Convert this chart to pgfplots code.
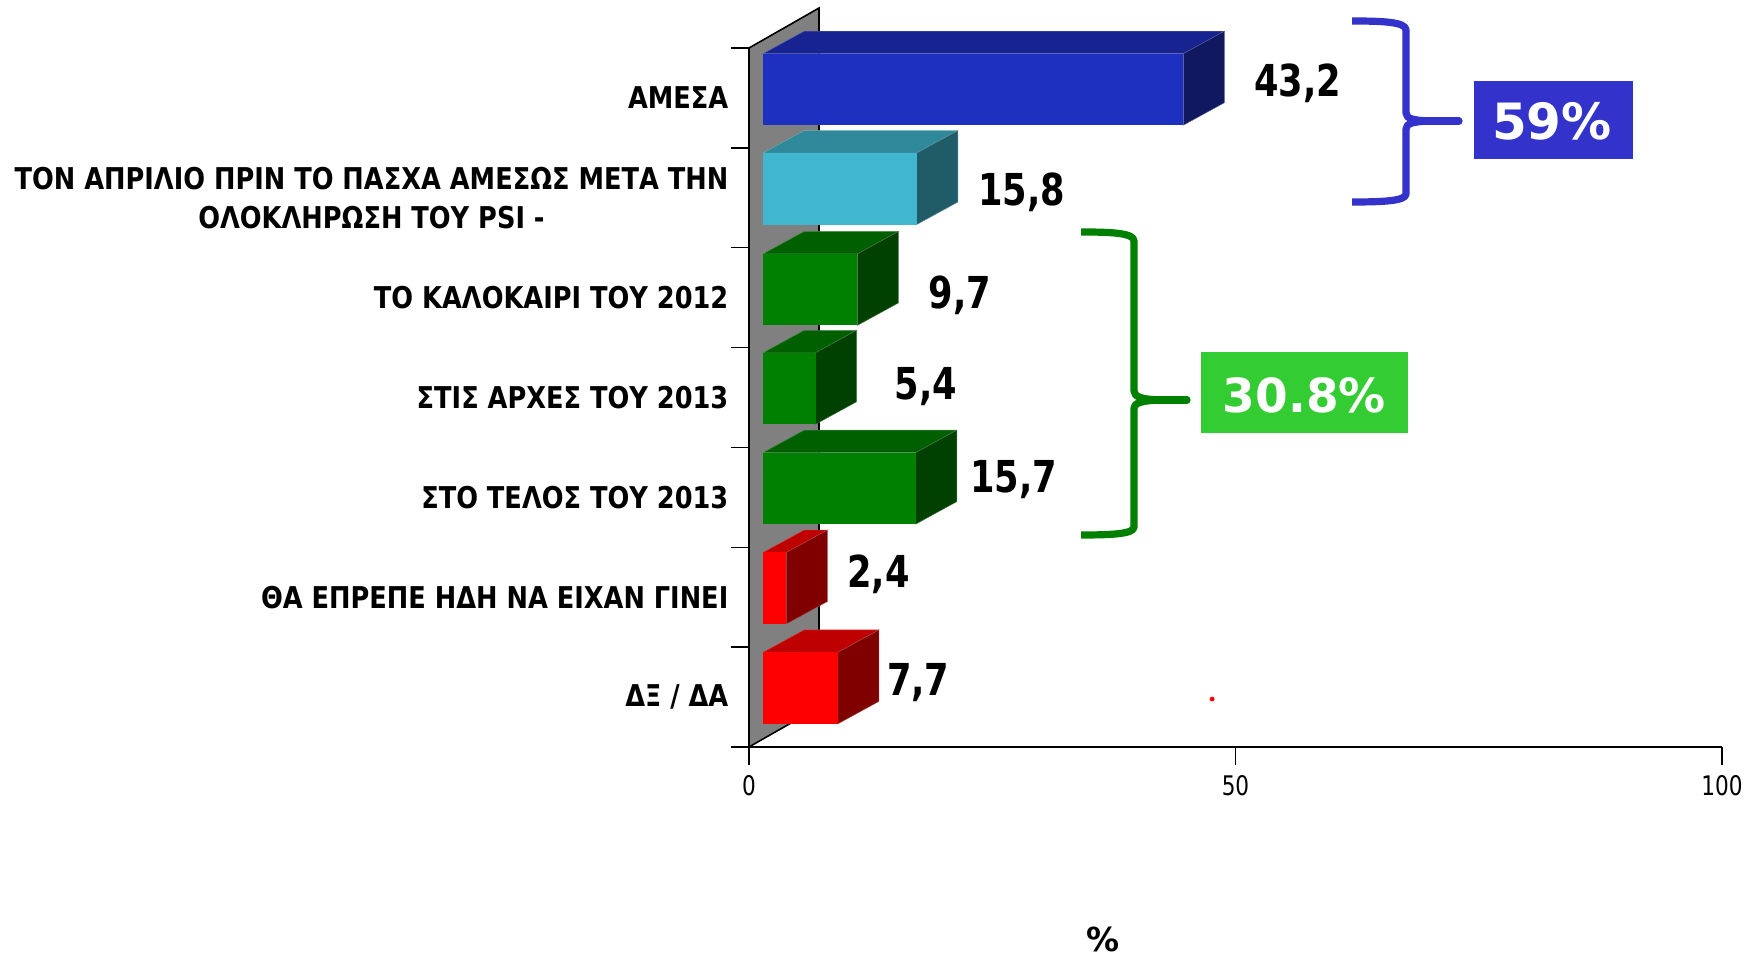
\documentclass[border=0pt]{standalone}
\usepackage{fontspec}
\usepackage{pgfplots}
\usepackage{pgfplotstable}
\pgfplotsset{compat=1.18}
\setmainfont{DejaVu Sans}
\newfontfamily\lab[FakeStretch=0.8]{DejaVu Sans}
\newfontfamily\cat[FakeStretch=0.855]{DejaVu Sans}
\definecolor{bluef}{RGB}{30,48,192}
\definecolor{bluet}{RGB}{23,35,144}
\definecolor{blues}{RGB}{16,24,96}
\definecolor{cyanf}{RGB}{64,182,207}
\definecolor{cyant}{RGB}{48,137,155}
\definecolor{cyans}{RGB}{32,91,104}
\definecolor{greenf}{RGB}{0,128,0}
\definecolor{greent}{RGB}{0,96,0}
\definecolor{greens}{RGB}{0,64,0}
\definecolor{redf}{RGB}{255,0,0}
\definecolor{redt}{RGB}{191,0,0}
\definecolor{reds}{RGB}{128,0,0}
\definecolor{annblue}{RGB}{51,51,204}
\definecolor{anngreen}{RGB}{51,204,51}
\definecolor{brgreen}{RGB}{0,128,0}
\tikzset{
  fb/.style={xbar, bar width=35.75pt, xshift=7pt, draw=none, fill=#1},
  face/.style={fill=#1, draw=#1!70!white, line width=0.2pt, mark=none},
  val/.style={font=\lab\bfseries\fontsize{22}{24}\selectfont, text=black},
}
\begin{document}
\begin{tikzpicture}
\path[use as bounding box] (0,0) rectangle (876.5pt,479pt);
\begin{axis}[
  at={(374.5pt,105.5pt)}, anchor=south west,
  scale only axis, width=486.5pt, height=349.5pt,
  xmin=0, xmax=100, ymin=0, ymax=7,
  axis lines*=left, axis line style={-, line width=0.8pt, black},
  clip=false,
  tick align=outside, major tick length=9pt,
  tick style={black, line width=0.7pt},
  xtick={0,50,100},
  ytick={0,1,2,3,4,5,6,7}, yticklabels={},
  extra y ticks={0.5,1.5,2.5,3.5,4.5,5.5,6.5},
  extra y tick labels={{ΔΞ / ΔΑ},{ΘΑ ΕΠΡΕΠΕ ΗΔΗ ΝΑ ΕΙΧΑΝ ΓΙΝΕΙ},{ΣΤΟ ΤΕΛΟΣ ΤΟΥ 2013},{ΣΤΙΣ ΑΡΧΕΣ ΤΟΥ 2013},{ΤΟ ΚΑΛΟΚΑΙΡΙ ΤΟΥ 2012},{ΤΟΝ ΑΠΡΙΛΙΟ ΠΡΙΝ ΤΟ ΠΑΣΧΑ ΑΜΕΣΩΣ ΜΕΤΑ ΤΗΝ\\ΟΛΟΚΛΗΡΩΣΗ ΤΟΥ PSI -},{ΑΜΕΣΑ}},
  extra y tick style={major tick style={draw=none}},
  yticklabel style={font=\cat\bfseries\fontsize{15}{19.5}\selectfont, align=center, text=black, xshift=2.2pt},
  xticklabel style={font=\lab\fontsize{13.5}{15}\selectfont, text=black, yshift=-1.7pt, /pgf/number format/assume math mode=true},
  xlabel={\%},
  every axis x label/.style={at={(axis cs:36.4,-1.93)}, anchor=center, inner sep=0pt, font=\bfseries\fontsize{16.5}{18}\selectfont},
]
% back wall
\addplot[fill=gray, draw=black, line width=0.8pt, mark=none] coordinates {(0,0) (0,7) (7.19,7.40) (7.19,0.40)} --cycle;
% top faces
\addplot[face=bluet]  coordinates {(1.44,6.943) (44.64,6.943) (48.86,7.168) (5.66,7.168)} --cycle;
\addplot[face=cyant]  coordinates {(1.44,5.948) (17.24,5.948) (21.46,6.173) (5.66,6.173)} --cycle;
\addplot[face=greent] coordinates {(1.44,4.938) (11.14,4.938) (15.36,5.163) (5.66,5.163)} --cycle;
\addplot[face=greent] coordinates {(1.44,3.948) (6.84,3.948) (11.06,4.173) (5.66,4.173)} --cycle;
\addplot[face=greent] coordinates {(1.44,2.948) (17.14,2.948) (21.36,3.173) (5.66,3.173)} --cycle;
\addplot[face=redt]   coordinates {(1.44,1.948) (3.84,1.948) (8.06,2.173) (5.66,2.173)} --cycle;
\addplot[face=redt]   coordinates {(1.44,0.948) (9.14,0.948) (13.36,1.173) (5.66,1.173)} --cycle;
% side faces
\addplot[face=blues]  coordinates {(44.64,6.943) (48.86,7.168) (48.86,6.452) (44.64,6.227)} --cycle;
\addplot[face=cyans]  coordinates {(17.24,5.948) (21.46,6.173) (21.46,5.457) (17.24,5.232)} --cycle;
\addplot[face=greens] coordinates {(11.14,4.938) (15.36,5.163) (15.36,4.447) (11.14,4.222)} --cycle;
\addplot[face=greens] coordinates {(6.84,3.948) (11.06,4.173) (11.06,3.457) (6.84,3.232)} --cycle;
\addplot[face=greens] coordinates {(17.14,2.948) (21.36,3.173) (21.36,2.457) (17.14,2.232)} --cycle;
\addplot[face=reds]   coordinates {(3.84,1.948) (8.06,2.173) (8.06,1.457) (3.84,1.232)} --cycle;
\addplot[face=reds]   coordinates {(9.14,0.948) (13.36,1.173) (13.36,0.457) (9.14,0.232)} --cycle;
% front faces: the values
\addplot[fb=bluef]  coordinates {(43.2,6.585)};
\addplot[fb=cyanf]  coordinates {(15.8,5.59)};
\addplot[fb=greenf] coordinates {(9.7,4.58)};
\addplot[fb=greenf] coordinates {(5.4,3.59)};
\addplot[fb=greenf] coordinates {(15.7,2.59)};
\addplot[fb=redf]   coordinates {(2.4,1.59)};
\addplot[fb=redf]   coordinates {(7.7,0.59)};
% stray dot
\addplot[only marks, mark=*, mark size=1pt, draw=redf, fill=redf] coordinates {(47.6,0.48)};
% value labels
\node[val] at (axis cs:56.4,6.643) {43,2};
\node[val] at (axis cs:28.0,5.553) {15,8};
\node[val] at (axis cs:21.7,4.523) {9,7};
\node[val] at (axis cs:18.2,3.613) {5,4};
\node[val] at (axis cs:27.2,2.673) {15,7};
\node[val] at (axis cs:13.3,1.733) {2,4};
\node[val] at (axis cs:17.4,0.643) {7,7};
\end{axis}
% annotations, in reference pixels
\begin{scope}[shift={(0,479pt)}, x=0.5pt, y=-0.5pt]
\draw[annblue, line width=3.6pt, line cap=butt, line join=round]
  (1352,21) .. controls (1383,21) and (1406,22) .. (1406,30) -- (1406,113)
  .. controls (1406,119) and (1414,121) .. (1438,121);
\draw[annblue, line width=3.6pt, line cap=butt, line join=round]
  (1352,202) .. controls (1383,202) and (1406,201) .. (1406,194) -- (1406,129)
  .. controls (1406,123) and (1414,121) .. (1438,121);
\draw[annblue, line width=3.6pt, line cap=round] (1428,121) -- (1459,121);
\fill[annblue] (1474,81) rectangle (1633,159);
\node[text=white, font=\bfseries\fontsize{25}{27}\selectfont] at (1552,121) {59\%};
\draw[brgreen, line width=3.6pt, line cap=butt, line join=round]
  (1081,232) .. controls (1112,232) and (1134,233) .. (1134,241) -- (1134,391)
  .. controls (1134,397) and (1142,400) .. (1167,400);
\draw[brgreen, line width=3.6pt, line cap=butt, line join=round]
  (1081,535) .. controls (1112,535) and (1134,534) .. (1134,527) -- (1134,408)
  .. controls (1134,403) and (1142,400) .. (1167,400);
\draw[brgreen, line width=3.6pt, line cap=round] (1157,400) -- (1187,400);
\fill[anngreen] (1201,352) rectangle (1408,433);
\node[text=white, font=\bfseries\fontsize{23.5}{26}\selectfont] at (1304.5,395) {30.8\%};
\end{scope}
\end{tikzpicture}
\end{document}
